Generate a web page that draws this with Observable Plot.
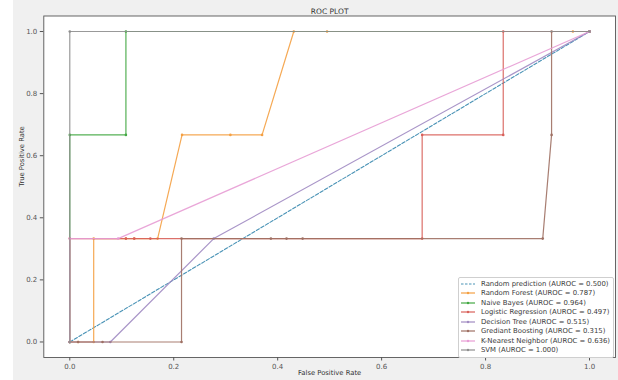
<!DOCTYPE html>
<html>
<head>
<meta charset="utf-8">
<script src="https://cdn.jsdelivr.net/npm/d3@7"></script>
<script src="https://cdn.jsdelivr.net/npm/@observablehq/plot@0.6"></script>
<style>
  html, body { margin: 0; padding: 0; background: #ffffff; }
  #wrap { position: relative; width: 618px; height: 380px; }
  #wrap > svg { background: linear-gradient(to right, #ffffff 13px, #f0f0f0 13px); }
  #legend {
    position: absolute; left: 458px; top: 277px; width: 156px;
    background: rgba(255,255,255,0.85); border: 1px solid #cfcfcf; border-radius: 2px;
    font-family: "DejaVu Sans", sans-serif; font-size: 6.9px; color: #3a3a3a;
    padding: 1px 0 2px 0; box-sizing: border-box;
  }
  .row { display: flex; align-items: center; height: 9.5px; white-space: nowrap; }
  .row svg { margin: 0 6px 0 2px; }
</style>
</head>
<body>
<div id="wrap"></div>
<script>
// ---- data ----
const models = [
  "Random prediction", "Random Forest", "Naive Bayes", "Logistic Regression",
  "Decision Tree", "Grediant Boosting", "K-Nearest Neighbor", "SVM"
];
const aurocs = [0.500, 0.787, 0.964, 0.497, 0.515, 0.315, 0.636, 1.000];
const colors = ["#4a93b6", "#f4a043", "#43a843", "#d8605a", "#a08ac2", "#9e7063", "#e79cd4", "#8e8e8e"];

const randomFpr = [0, 1];
const randomTpr = [0, 1];
const rfFpr = [0, 0.016, 0.046, 0.046, 0.108, 0.124, 0.169, 0.216, 0.309, 0.370, 0.431, 0.495, 0.968, 1];
const rfTpr = [0, 0, 0, 0.333, 0.333, 0.333, 0.333, 0.667, 0.667, 0.667, 1, 1, 1, 1];
const nbFpr = [0, 0, 0.108, 0.108, 1];
const nbTpr = [0, 0.667, 0.667, 1, 1];
const lrFpr = [0, 0, 0.108, 0.124, 0.155, 0.678, 0.678, 0.834, 0.834, 1];
const lrTpr = [0, 0.333, 0.333, 0.333, 0.333, 0.333, 0.667, 0.667, 1, 1];
const dtFpr = [0, 0.078, 0.277, 1];
const dtTpr = [0, 0, 0.333, 1];
const gbFpr = [0, 0.016, 0.063, 0.215, 0.215, 0.387, 0.417, 0.448, 0.910, 0.927, 0.927, 1];
const gbTpr = [0, 0, 0, 0, 0.333, 0.333, 0.333, 0.333, 0.333, 0.667, 1, 1];
const knnFpr = [0, 0, 0.093, 1];
const knnTpr = [0, 0.333, 0.333, 1];
const svmFpr = [0, 0, 1];
const svmTpr = [0, 1, 1];

const xTicks = [0, 0.2, 0.4, 0.6, 0.8, 1.0];
const yTicks = [0, 0.2, 0.4, 0.6, 0.8, 1.0];
const title = "ROC PLOT";
const xLabel = "False Positive Rate";
const yLabel = "True Positive Rate";

// ---- build table ----
const curves = [
  [randomFpr, randomTpr], [rfFpr, rfTpr], [nbFpr, nbTpr], [lrFpr, lrTpr],
  [dtFpr, dtTpr], [gbFpr, gbTpr], [knnFpr, knnTpr], [svmFpr, svmTpr]
];
const rows = [];
curves.forEach(([xs, ys], i) => {
  xs.forEach((x, j) => rows.push({model: models[i], idx: i, fpr: x, tpr: ys[j]}));
});
const byModel = i => rows.filter(d => d.idx === i);

const marks = [
  Plot.frame({fill: "white", stroke: "none"}),
  Plot.axisX({ticks: xTicks, tickFormat: d3.format(".1f"), tickSize: 3.5, tickPadding: 3,
    fontSize: 7, label: null, color: "#555"}),
  Plot.axisY({ticks: yTicks, tickFormat: d3.format(".1f"), tickSize: 3.5, tickPadding: 3,
    fontSize: 7, label: null, color: "#555"}),
  Plot.line(byModel(0), {x: "fpr", y: "tpr", stroke: colors[0], strokeWidth: 1.1, strokeDasharray: "3.5,1.8"})
];
for (let i = 1; i < models.length; i++) {
  marks.push(Plot.line(byModel(i), {x: "fpr", y: "tpr", stroke: colors[i], strokeWidth: 1.2, strokeOpacity: 0.9}));
  marks.push(Plot.dot(byModel(i), {x: "fpr", y: "tpr", fill: colors[i], r: 1.3, stroke: "none"}));
}
marks.push(
  Plot.frame({stroke: "#555", strokeWidth: 0.9}),
  Plot.text([title], {frameAnchor: "top", text: d => d, dy: -7, fontSize: 7.5, fill: "#333",
    fontFamily: "DejaVu Sans"}),
  Plot.text([xLabel], {frameAnchor: "bottom", text: d => d, dy: 17, fontSize: 6.8, fill: "#333",
    fontFamily: "DejaVu Sans"}),
  Plot.text([yLabel], {frameAnchor: "left", text: d => d, dx: -22, rotate: -90, fontSize: 6.8, fill: "#333",
    fontFamily: "DejaVu Sans"})
);

const chart = Plot.plot({
  width: 618,
  height: 380,
  marginLeft: 43.3,
  marginRight: 3,
  marginTop: 15.5,
  marginBottom: 23,
  style: {fontFamily: "DejaVu Sans", fontSize: "7px"},
  x: {domain: [-0.05, 1.05]},
  y: {domain: [-0.05, 1.05]},
  marks
});
const wrap = document.getElementById("wrap");
wrap.appendChild(chart);

// ---- legend ----
const legend = document.createElement("div");
legend.id = "legend";
models.forEach((m, i) => {
  const row = document.createElement("div");
  row.className = "row";
  const dash = i === 0 ? ' stroke-dasharray="2.5,1.5"' : "";
  const dot = i === 0 ? "" : `<circle cx="7" cy="3" r="1.2" fill="${colors[i]}"/>`;
  row.innerHTML = `<svg width="14" height="6"><line x1="0" y1="3" x2="14" y2="3" stroke="${colors[i]}" stroke-width="1.2"${dash}/>${dot}</svg><span>${m} (AUROC = ${aurocs[i].toFixed(3)})</span>`;
  legend.appendChild(row);
});
wrap.appendChild(legend);
</script>
</body>
</html>
